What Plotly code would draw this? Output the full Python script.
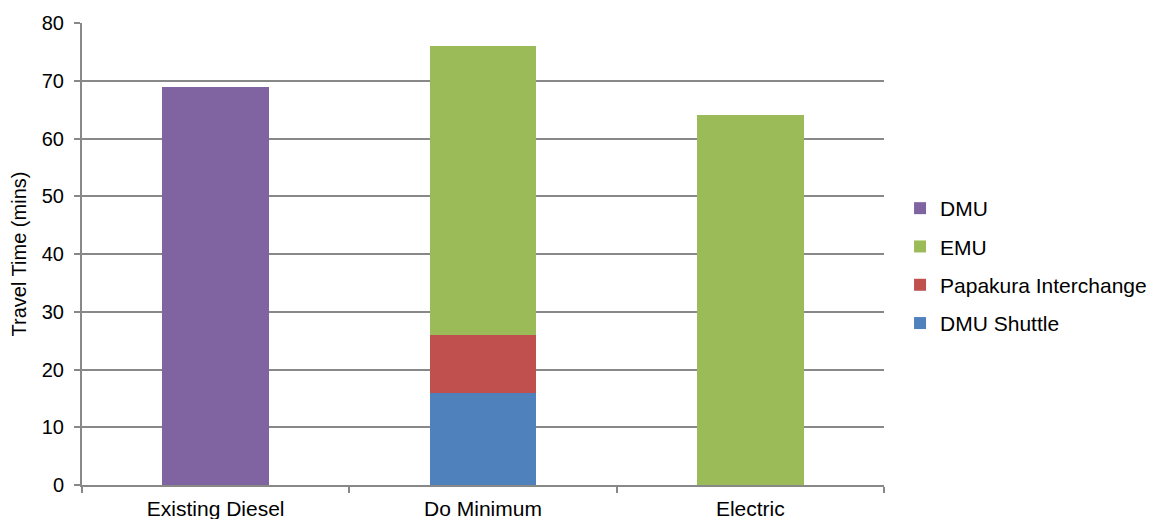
import plotly.graph_objects as go

# Travel time by service option, split by journey segment (minutes)
options = ["Existing Diesel", "Do Minimum", "Electric"]
dmu_shuttle = [0, 16, 0]
papakura_interchange = [0, 10, 0]
emu = [0, 50, 64]
dmu = [69, 0, 0]

# (name, values, colour, legend position)
series = [
    ("DMU Shuttle", dmu_shuttle, "#4F81BD", 4),
    ("Papakura Interchange", papakura_interchange, "#C0504D", 3),
    ("EMU", emu, "#9BBB59", 2),
    ("DMU", dmu, "#8064A2", 1),
]

fig = go.Figure()
for name, values, color, rank in series:
    fig.add_trace(go.Bar(
        x=options, y=values, name=name, legendgroup=name, legendrank=rank,
        marker=dict(color=color, line=dict(width=0)),
    ))

font_family = "Liberation Sans, Arial, sans-serif"
fig.update_layout(
    width=1153, height=519,
    barmode="stack", bargap=0.6,
    plot_bgcolor="white", paper_bgcolor="white",
    margin=dict(l=82, r=269, t=23, b=34, autoexpand=False),
    font=dict(family=font_family, size=21, color="#000000"),
    legend=dict(
        x=1.02, xref="paper", y=0.474, xanchor="left", yanchor="middle",
        traceorder="grouped", tracegroupgap=8,
        font=dict(size=21), itemwidth=30,
    ),
    xaxis=dict(
        showline=True, linecolor="#888888", linewidth=2,
        ticks="outside", tickson="boundaries", ticklen=6,
        tickcolor="#888888", tickwidth=2,
        tickfont=dict(size=21), ticklabelstandoff=4,
    ),
    yaxis=dict(
        range=[0, 80], dtick=10,
        showline=True, linecolor="#888888", linewidth=2,
        showgrid=True, gridcolor="#888888", gridwidth=1.5,
        ticks="outside", ticklen=6, tickcolor="#888888", tickwidth=2,
        tickfont=dict(size=20), ticklabelstandoff=6,
        zeroline=False,
        title=dict(text="Travel Time (mins)", font=dict(size=20), standoff=10),
    ),
)

fig.write_html("out.html")
